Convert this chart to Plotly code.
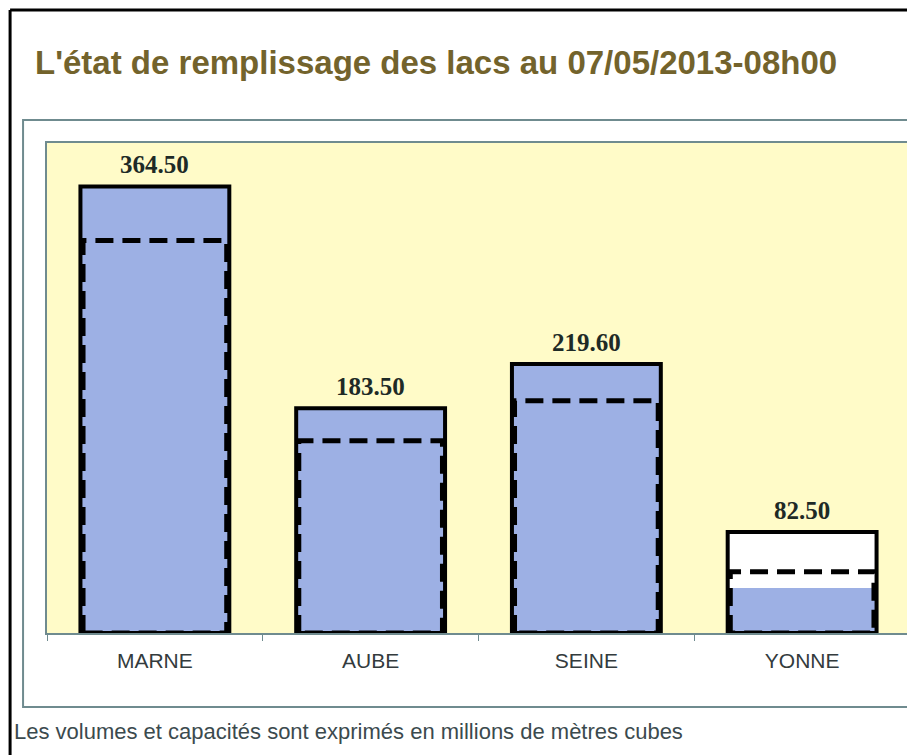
import plotly.graph_objects as go

# ---- data ----
lakes = ["MARNE", "AUBE", "SEINE", "YONNE"]
capacity = [364.50, 183.50, 219.60, 82.50]
volume = [364.0, 183.0, 219.0, 36.5]
objective = [320.5, 157.0, 189.5, 50.0]

title_text = "L'état de remplissage des lacs au 07/05/2013-08h00"
footnote = "Les volumes et capacités sont exprimés en millions de mètres cubes"

# ---- styles ----
OFF = 8  # page body margin
W_FIG, H_FIG = 915 - OFF, 755 - OFF
# target plot area in window pixels: x 47..912, y 143..633
L = 47 - OFF
R = W_FIG - (912 - OFF)
T = 143 - OFF
B = H_FIG - (633 - OFF)
PW = W_FIG - L - R
PH = H_FIG - T - B
BAR_W = 0.69
BLUE = "#9db0e4"
YELLOW = "#fffbc8"
FRAME = "#6f8b8f"
TITLE_COL = "#73632c"

def px_x(px):
    return (px - OFF - L) / PW

def px_y(py):
    return (H_FIG - B - (py - OFF)) / PH

xs = list(range(len(lakes)))

fig = go.Figure()

# capacity background (white)
fig.add_trace(go.Bar(x=xs, y=capacity, width=BAR_W, marker=dict(color="white", line=dict(width=0)),
                     hoverinfo="skip", showlegend=False))
# current volume (blue), clipped at capacity
fig.add_trace(go.Bar(x=xs, y=[min(v, c) for v, c in zip(volume, capacity)], width=BAR_W,
                     marker=dict(color=BLUE, line=dict(width=0)), hoverinfo="skip", showlegend=False))

# objective dashed outline
ins = 0.012
ox, oy = [], []
for i, o in zip(xs, objective):
    l, r = i - BAR_W / 2 + ins, i + BAR_W / 2 - ins
    ox += [l, l, r, r, l, None]
    oy += [0, o, o, 0, 0, None]
fig.add_trace(go.Scatter(x=ox, y=oy, mode="lines", line=dict(color="black", width=5, dash="18px,9px"),
                         hoverinfo="skip", showlegend=False, connectgaps=False))

# capacity solid outline
cx, cy = [], []
for i, c in zip(xs, capacity):
    l, r = i - BAR_W / 2, i + BAR_W / 2
    cx += [l, l, r, r, l, None]
    cy += [0, c, c, 0, 0, None]
fig.add_trace(go.Scatter(x=cx, y=cy, mode="lines", line=dict(color="black", width=4),
                         hoverinfo="skip", showlegend=False, connectgaps=False))

# value labels
for i, c in zip(xs, capacity):
    fig.add_annotation(x=i, y=c, text=f"<b>{c:.2f}</b>", showarrow=False, yanchor="bottom", yshift=6,
                       font=dict(family="Liberation Serif", size=25, color="#1e2a26"))

shapes = [
    # outer black frame (left and top)
    dict(type="line", xref="paper", yref="paper", x0=px_x(10), x1=px_x(10), y0=px_y(10), y1=px_y(760),
         line=dict(color="black", width=3)),
    dict(type="line", xref="paper", yref="paper", x0=px_x(10), x1=px_x(920), y0=px_y(10), y1=px_y(10),
         line=dict(color="black", width=3)),
    # inner panel
    dict(type="rect", xref="paper", yref="paper", x0=px_x(23), x1=px_x(925), y0=px_y(120), y1=px_y(707),
         line=dict(color=FRAME, width=2)),
]

fig.add_annotation(xref="paper", yref="paper", x=px_x(12), y=px_y(731), xanchor="left", yanchor="middle",
                   text=footnote, showarrow=False,
                   font=dict(family="Liberation Sans", size=22, color="#3b4a4e"))

fig.update_layout(
    width=W_FIG, height=H_FIG,
    margin=dict(l=L, r=R, t=T, b=B),
    paper_bgcolor="white",
    plot_bgcolor=YELLOW,
    barmode="overlay",
    bargap=0,
    shapes=shapes,
    title=dict(text=f"<b>{title_text}</b>", xref="container", yref="container",
               x=(35 - OFF) / W_FIG, y=1 - (62 - OFF) / H_FIG,
               xanchor="left", yanchor="middle",
               font=dict(family="Liberation Sans", size=33, color=TITLE_COL)),
    xaxis=dict(range=[-0.5, len(lakes) - 0.5], tickmode="array", tickvals=xs, ticktext=lakes,
               ticks="", showgrid=False, zeroline=False, showline=True, linecolor=FRAME, linewidth=2,
               mirror=True, ticklabelstandoff=8,
               tickfont=dict(family="Liberation Sans", size=21, color="#333b3d"),
               minor=dict(tickmode="array", tickvals=[x - 0.5 for x in xs] + [len(lakes) - 0.5],
                          ticks="outside", ticklen=6, tickcolor=FRAME, tickwidth=1, showgrid=False)),
    yaxis=dict(range=[0, 400], showticklabels=False, ticks="", showgrid=False, zeroline=False,
               showline=True, linecolor=FRAME, linewidth=2, mirror=True),
)

fig.write_html("out.html")
